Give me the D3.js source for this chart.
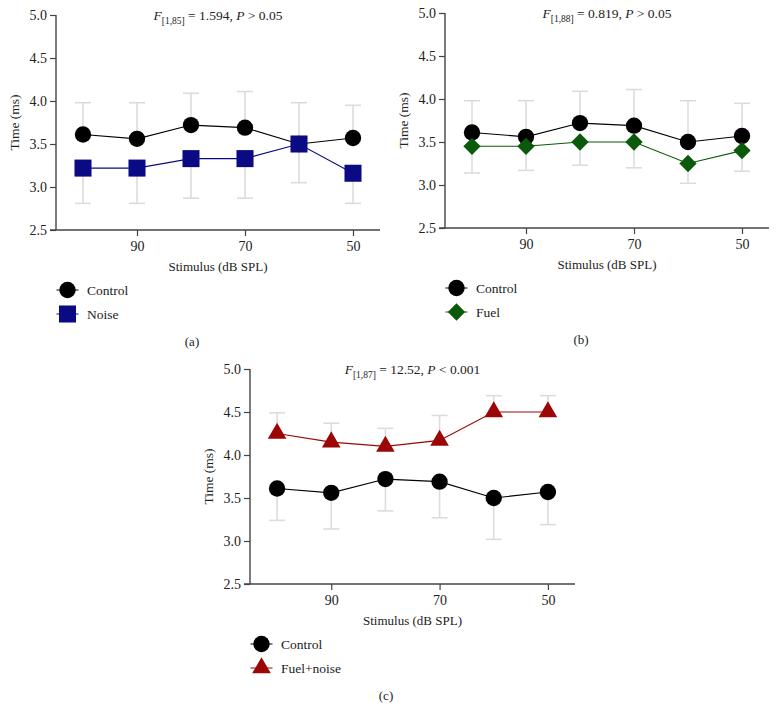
<!DOCTYPE html>
<html>
<head>
<meta charset="utf-8">
<script src="https://cdn.jsdelivr.net/npm/d3@7"></script>
<style>
  body { margin: 0; background: #fff; }
</style>
</head>
<body>
<div id="chart"></div>
<script>
// stimulus levels (dB SPL) and axis ticks
var stimulus = [100, 90, 80, 70, 60, 50];
var xTicks = [90, 70, 50];
var yTicks = [2.5, 3.0, 3.5, 4.0, 4.5, 5.0];

// latency values (ms)
var controlMean = [3.61, 3.56, 3.72, 3.69, 3.50, 3.57];
var controlSD = [0.37, 0.42, 0.37, 0.42, 0.48, 0.38];

var noiseMean = [3.22, 3.22, 3.33, 3.33, 3.50, 3.16];
var noiseSD = [0.41, 0.41, 0.46, 0.46, 0.45, 0.35];

var fuelMean = [3.45, 3.45, 3.50, 3.50, 3.25, 3.40];
var fuelSD = [0.31, 0.28, 0.27, 0.30, 0.23, 0.24];

var fuelNoiseMean = [4.25, 4.15, 4.10, 4.17, 4.50, 4.50];
var fuelNoiseSD = [0.24, 0.22, 0.21, 0.29, 0.19, 0.19];

var FONT = "'Liberation Serif', 'DejaVu Serif', serif";

var svg = d3.select("#chart")
  .append("svg")
  .attr("width", 778)
  .attr("height", 710)
  .style("font-family", FONT);

function makeSeries(mean, sd) {
  return stimulus.map(function(s, i) {
    return { x: s, y: mean[i], sd: sd[i] };
  });
}

var panels = [
  {
    x0: 56, x1: 380, yTop: 15, yBot: 230, letter: "(a)",
    df: "[1,85]", stat: " = 1.594, ", pTxt: " > 0.05",
    ctrlDir: 1,
    other: { name: "Noise", mean: noiseMean, sd: noiseSD, color: "#0a0a84", shape: "square" }
  },
  {
    x0: 445, x1: 769, yTop: 13, yBot: 228, letter: "(b)",
    df: "[1,88]", stat: " = 0.819, ", pTxt: " > 0.05",
    ctrlDir: 1,
    other: { name: "Fuel", mean: fuelMean, sd: fuelSD, color: "#0b5a0b", shape: "diamond" }
  },
  {
    x0: 250, x1: 575, yTop: 369, yBot: 584, letter: "(c)",
    df: "[1,87]", stat: " = 12.52, ", pTxt: " < 0.001",
    ctrlDir: -1,
    other: { name: "Fuel+noise", mean: fuelNoiseMean, sd: fuelNoiseSD, color: "#9b0606", shape: "triangle" }
  }
];

function symbolPath(shape) {
  if (shape === "circle") return d3.symbol().type(d3.symbolCircle).size(210)();
  if (shape === "square") return d3.symbol().type(d3.symbolSquare).size(290)();
  if (shape === "diamond") return d3.symbol().type(d3.symbolSquare).size(150)();
  return d3.symbol().type(d3.symbolTriangle).size(150)();
}

function shapeRotate(shape) {
  return shape === "diamond" ? " rotate(45)" : "";
}

panels.forEach(function(p) {
  var x = d3.scaleLinear().domain([105, 45]).range([p.x0, p.x1]);
  var y = d3.scaleLinear().domain([2.5, 5.0]).range([p.yBot, p.yTop]);

  var g = svg.append("g");

  // axes
  var yAxis = g.append("g")
    .attr("transform", "translate(" + p.x0 + ",0)")
    .call(d3.axisLeft(y).tickValues(yTicks).tickFormat(d3.format(".1f")).tickSize(6).tickPadding(3));
  var xAxis = g.append("g")
    .attr("transform", "translate(0," + p.yBot + ")")
    .call(d3.axisBottom(x).tickValues(xTicks).tickSize(6).tickPadding(5));
  [yAxis, xAxis].forEach(function(ax) {
    ax.attr("font-family", FONT);
    ax.select(".domain").attr("stroke", "#444").attr("stroke-width", 1.4);
    ax.selectAll(".tick line").attr("stroke", "#444").attr("stroke-width", 1.2);
    ax.selectAll(".tick text").attr("font-size", 14).attr("fill", "#222");
  });
  // square off the domain path (no outer ticks)
  yAxis.select(".domain").attr("d", "M0," + p.yTop + "V" + p.yBot);
  xAxis.select(".domain").attr("d", "M" + (p.x0 - 6) + ",0H" + p.x1);

  var control = makeSeries(controlMean, controlSD);
  var other = makeSeries(p.other.mean, p.other.sd);
  var otherDir = -p.ctrlDir;

  // error bars (one-sided, pointing away from the other group)
  function errorBars(data, dir) {
    var eb = g.append("g").attr("stroke", "#dcdcdc").attr("stroke-width", 1.6);
    eb.selectAll("line.v").data(data).enter().append("line")
      .attr("x1", function(d) { return x(d.x); })
      .attr("x2", function(d) { return x(d.x); })
      .attr("y1", function(d) { return y(d.y); })
      .attr("y2", function(d) { return y(d.y + dir * d.sd); });
    eb.selectAll("line.c").data(data).enter().append("line")
      .attr("x1", function(d) { return x(d.x) - 8; })
      .attr("x2", function(d) { return x(d.x) + 8; })
      .attr("y1", function(d) { return y(d.y + dir * d.sd); })
      .attr("y2", function(d) { return y(d.y + dir * d.sd); });
  }
  errorBars(control, p.ctrlDir);
  errorBars(other, otherDir);

  var line = d3.line().x(function(d) { return x(d.x); }).y(function(d) { return y(d.y); });

  function drawSeries(data, color, shape) {
    g.append("path").datum(data)
      .attr("d", line)
      .attr("fill", "none")
      .attr("stroke", color)
      .attr("stroke-width", 1.1);
    g.selectAll(null).data(data).enter().append("path")
      .attr("d", symbolPath(shape))
      .attr("transform", function(d) {
        return "translate(" + x(d.x) + "," + y(d.y) + ")" + shapeRotate(shape);
      })
      .attr("fill", color);
  }
  drawSeries(control, "#000", "circle");
  drawSeries(other, p.other.color, p.other.shape);

  // statistics title
  var cx = (p.x0 + p.x1) / 2;
  var t = g.append("text")
    .attr("x", cx)
    .attr("y", p.yTop + 5)
    .attr("text-anchor", "middle")
    .attr("font-size", 13.5)
    .attr("fill", "#222");
  t.append("tspan").attr("font-style", "italic").text("F");
  t.append("tspan").attr("font-size", 9.5).attr("dy", 3.5).text(p.df);
  t.append("tspan").attr("dy", -3.5).text(p.stat);
  t.append("tspan").attr("font-style", "italic").text("P");
  t.append("tspan").text(p.pTxt);

  // axis titles
  g.append("text")
    .attr("x", cx)
    .attr("y", p.yBot + 41)
    .attr("text-anchor", "middle")
    .attr("font-size", 13)
    .attr("fill", "#222")
    .text("Stimulus (dB SPL)");

  g.append("text")
    .attr("transform", "translate(" + (p.x0 - 37) + "," + ((p.yTop + p.yBot) / 2) + ") rotate(-90)")
    .attr("text-anchor", "middle")
    .attr("font-size", 13.5)
    .attr("fill", "#222")
    .text("Time (ms)");

  // legend
  var legendItems = [
    { name: "Control", color: "#000", shape: "circle" },
    { name: p.other.name, color: p.other.color, shape: p.other.shape }
  ];
  var lg = g.selectAll(null).data(legendItems).enter().append("g")
    .attr("transform", function(d, i) {
      return "translate(" + (p.x0 + 11.5) + "," + (p.yBot + 60 + i * 24) + ")";
    });
  lg.append("line")
    .attr("x1", -11).attr("x2", 11)
    .attr("stroke", function(d) { return d.color; })
    .attr("stroke-width", 1);
  lg.append("path")
    .attr("d", function(d) { return symbolPath(d.shape); })
    .attr("transform", function(d) { return d.shape === "diamond" ? "rotate(45)" : ""; })
    .attr("fill", function(d) { return d.color; });
  lg.append("text")
    .attr("x", 19.5)
    .attr("dy", "0.35em")
    .attr("font-size", 13.5)
    .attr("fill", "#222")
    .text(function(d) { return d.name; });

  g.append("text")
    .attr("x", p.x0 + 136)
    .attr("y", p.yBot + 116)
    .attr("text-anchor", "middle")
    .attr("font-size", 13)
    .attr("fill", "#222")
    .text(p.letter);
});
</script>
</body>
</html>
